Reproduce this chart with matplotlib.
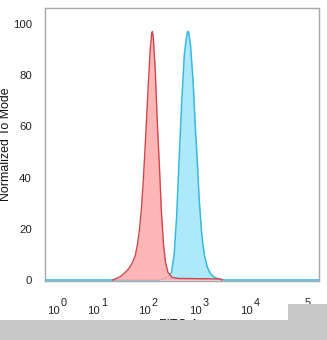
import numpy as np
import matplotlib
matplotlib.use("Agg")
import matplotlib.pyplot as plt
import matplotlib.transforms as mtransforms
from matplotlib.patches import Rectangle

plt.rcParams['font.family'] = ['Liberation Sans', 'DejaVu Sans']

# Data (FITC-A intensity vs. normalized count)
red_x = [20, 22, 28, 35, 42, 50, 56, 62, 68, 74, 80, 89, 100, 110, 117, 121, 126, 138, 151,
         166, 182, 200, 219, 245, 295, 398, 1000, 2570, 2820]
red_y = [0, 0.3, 1.2, 2.8, 4.5, 7, 9.5, 14, 20, 28, 38, 55, 75, 90, 96, 97, 95, 82, 62,
         45, 27, 14, 7, 3, 1, 0.6, 0.5, 0.4, 0]

blue_x = [-0.1, 158, 200, 251, 288, 324, 363, 407, 457, 513, 575, 600, 617, 640, 676, 759,
          851, 912, 1000, 1122, 1259, 1445, 1660, 1995, 2512, 3162, 224000]
blue_y = [0, 0, 0.5, 1.5, 3, 10, 25, 48, 70, 88, 96, 97, 97, 95, 92, 78,
          58, 48, 32, 18, 10, 5, 2.5, 1, 0.3, 0, 0]

y_ticks = [0, 20, 40, 60, 80, 100]
x_ticks = [1, 10, 100, 1000, 10000, 100000]
x_exponents = ['0', '1', '2', '3', '4', '5']

W = 2.0
def fwd(x):
    return np.arcsinh(np.asarray(x, dtype=float) / W) / np.log(10)
def inv(p):
    return W * np.sinh(np.asarray(p, dtype=float) * np.log(10))

fig = plt.figure(figsize=(3.27, 3.40), dpi=100)
ax = fig.add_axes([45/327, 59/340, 274/327, 273/340])
ax.set_xscale('function', functions=(fwd, inv))

blue_edge = '#35b9e0'
blue_fill = '#aee9fb'
red_edge = '#d0464a'
red_fill = '#ffaaaa'

ax.fill_between(blue_x, blue_y, 0, color=blue_fill, lw=0, zorder=2)
ax.plot(blue_x, blue_y, color=blue_edge, lw=1.1, zorder=3)
ax.fill_between(red_x, red_y, 0, color=red_fill, alpha=0.85, lw=0, zorder=4)
ax.plot(red_x, red_y, color=red_edge, lw=1.0, zorder=5)

ax.set_xlim(-0.1, 224000)
ax.set_ylim(-0.4, 106.2)
ax.set_yticks(y_ticks)
ax.set_yticklabels([str(v) for v in y_ticks])
ax.set_xticks(x_ticks)
ax.set_xticklabels([''] * len(x_ticks))
ax.xaxis.set_minor_locator(matplotlib.ticker.NullLocator())
ax.tick_params(axis='y', length=0, pad=9.5, labelsize=8.2, colors='#222222')
ax.tick_params(axis='x', length=0)
for s in ax.spines.values():
    s.set_color('#a8a8a8')
    s.set_linewidth(1.0)

# x tick labels as base "10" plus raised exponent
trans = ax.get_xaxis_transform()
base_t = mtransforms.offset_copy(trans, fig=fig, x=3, y=0, units='dots')
sup_t = mtransforms.offset_copy(trans, fig=fig, x=3.5, y=0, units='dots')
for xt, ex in zip(x_ticks, x_exponents):
    ax.text(xt, (281 - 314) / 273, '10', transform=base_t, ha='right', va='baseline',
            fontsize=8.2, color='#222222', clip_on=False)
    ax.text(xt, (281 - 305.5) / 273, ex, transform=sup_t, ha='left', va='baseline',
            fontsize=7.8, color='#222222', clip_on=False)

ax.set_ylabel('Normalized To Mode', fontsize=8.9, color='#111111')
ax.yaxis.set_label_coords(-0.122, 0.502)
ax.set_xlabel('FITC-A', fontsize=8.9, color='#111111')
ax.xaxis.set_label_coords(0.49, (281 - 319.5) / 273)

fig.patches.append(Rectangle((0, 0), 1, 20/340, transform=fig.transFigure,
                             facecolor='#c8c8c8', edgecolor='none', zorder=10))
fig.patches.append(Rectangle((288/327, 20/340), 39/327, 16/340, transform=fig.transFigure,
                             facecolor='#c8c8c8', edgecolor='none', zorder=10))

fig.savefig('out.png', dpi=100)
